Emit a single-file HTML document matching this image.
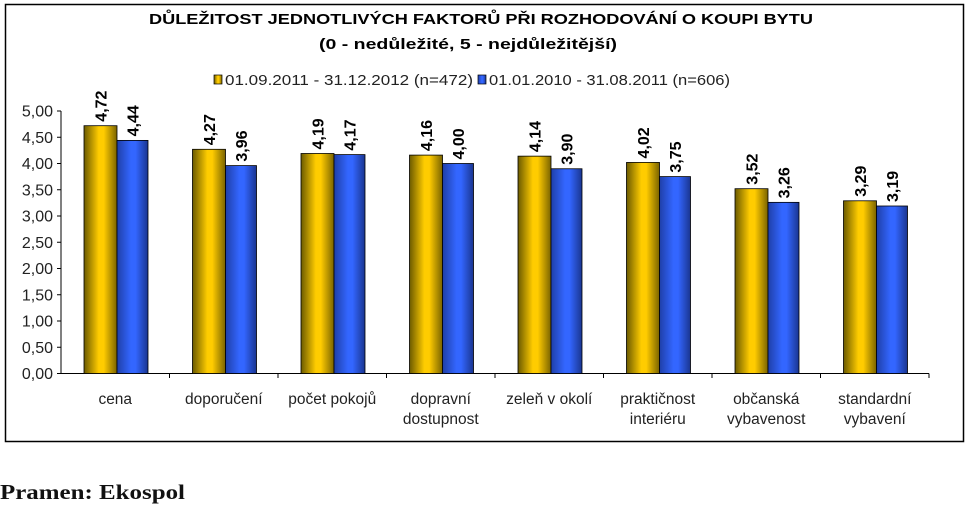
<!DOCTYPE html>
<html><head><meta charset="utf-8"><style>
body{margin:0;background:#fff;width:973px;height:515px;overflow:hidden}
text{font-family:"Liberation Sans",sans-serif}
.v{font-size:16px;font-weight:bold}
.c{font-size:15.5px;fill:#222;text-anchor:middle}
.t{font-size:16px;fill:#222;text-anchor:end}
</style></head><body>
<svg width="973" height="515" xmlns="http://www.w3.org/2000/svg">
<defs>
<linearGradient id="gy" x1="0" x2="1" y1="0" y2="0">
<stop offset="0" stop-color="#6b5a00"/><stop offset="0.45" stop-color="#ffcc00"/><stop offset="0.6" stop-color="#ffcc00"/><stop offset="1" stop-color="#7a6300"/></linearGradient>
<linearGradient id="gb" x1="0" x2="1" y1="0" y2="0">
<stop offset="0" stop-color="#1f3fa8"/><stop offset="0.45" stop-color="#3366ff"/><stop offset="0.6" stop-color="#3366ff"/><stop offset="1" stop-color="#1a3590"/></linearGradient>
</defs>
<rect x="5.5" y="4.5" width="958" height="437" fill="#fff" stroke="#000" stroke-width="1.5"/>
<text x="481" y="24" font-size="15" font-weight="bold" text-anchor="middle" textLength="664" lengthAdjust="spacingAndGlyphs">DŮLEŽITOST JEDNOTLIVÝCH FAKTORŮ PŘI ROZHODOVÁNÍ O KOUPI BYTU</text>
<text x="468" y="49" font-size="15" font-weight="bold" text-anchor="middle" textLength="298" lengthAdjust="spacingAndGlyphs">(0 - nedůležité, 5 - nejdůležitější)</text>
<rect x="214" y="75" width="8" height="9" fill="url(#gy)" stroke="#000" stroke-width="0.7"/>
<text x="225" y="85" font-size="14.5" fill="#222" textLength="248" lengthAdjust="spacingAndGlyphs">01.09.2011 - 31.12.2012 (n=472)</text>
<rect x="478" y="75" width="8" height="9" fill="url(#gb)" stroke="#000" stroke-width="0.7"/>
<text x="489" y="85" font-size="14.5" fill="#222" textLength="241" lengthAdjust="spacingAndGlyphs">01.01.2010 - 31.08.2011 (n=606)</text>

<g stroke="#000" stroke-width="1">
<line x1="61" y1="111" x2="61" y2="374"/>
<line x1="61" y1="373.5" x2="929" y2="373.5"/>
<line x1="57" x2="61" y1="373.5" y2="373.5"/><line x1="57" x2="61" y1="347.25" y2="347.25"/>
<line x1="57" x2="61" y1="321" y2="321"/><line x1="57" x2="61" y1="294.75" y2="294.75"/>
<line x1="57" x2="61" y1="268.5" y2="268.5"/><line x1="57" x2="61" y1="242.25" y2="242.25"/>
<line x1="57" x2="61" y1="216" y2="216"/><line x1="57" x2="61" y1="189.75" y2="189.75"/>
<line x1="57" x2="61" y1="163.5" y2="163.5"/><line x1="57" x2="61" y1="137.25" y2="137.25"/>
<line x1="57" x2="61" y1="111" y2="111"/>
<line x1="169.5" x2="169.5" y1="373.5" y2="378"/><line x1="278" x2="278" y1="373.5" y2="378"/>
<line x1="386.5" x2="386.5" y1="373.5" y2="378"/><line x1="495" x2="495" y1="373.5" y2="378"/>
<line x1="603.5" x2="603.5" y1="373.5" y2="378"/><line x1="712" x2="712" y1="373.5" y2="378"/>
<line x1="820.5" x2="820.5" y1="373.5" y2="378"/><line x1="929" x2="929" y1="373.5" y2="378"/>
</g>
<g>
<text class="t" x="53" y="379">0,00</text><text class="t" x="53" y="352.75">0,50</text>
<text class="t" x="53" y="326.5">1,00</text><text class="t" x="53" y="300.25">1,50</text>
<text class="t" x="53" y="274">2,00</text><text class="t" x="53" y="247.75">2,50</text>
<text class="t" x="53" y="221.5">3,00</text><text class="t" x="53" y="195.25">3,50</text>
<text class="t" x="53" y="169">4,00</text><text class="t" x="53" y="142.75">4,50</text>
<text class="t" x="53" y="116.5">5,00</text>
</g>
<g stroke="#000" stroke-width="0.8">
<rect x="84" y="125.7" width="33" height="247.8" fill="url(#gy)"/>
<rect x="117" y="140.4" width="31" height="233.1" fill="url(#gb)"/>
<rect x="192.5" y="149.3" width="33" height="224.2" fill="url(#gy)"/>
<rect x="225.5" y="165.6" width="31" height="207.9" fill="url(#gb)"/>
<rect x="301" y="153.5" width="33" height="220" fill="url(#gy)"/>
<rect x="334" y="154.6" width="31" height="218.9" fill="url(#gb)"/>
<rect x="409.5" y="155.1" width="33" height="218.4" fill="url(#gy)"/>
<rect x="442.5" y="163.5" width="31" height="210" fill="url(#gb)"/>
<rect x="518" y="156.15" width="33" height="217.35" fill="url(#gy)"/>
<rect x="551" y="168.75" width="31" height="204.75" fill="url(#gb)"/>
<rect x="626.5" y="162.45" width="33" height="211.05" fill="url(#gy)"/>
<rect x="659.5" y="176.6" width="31" height="196.9" fill="url(#gb)"/>
<rect x="735" y="188.7" width="33" height="184.8" fill="url(#gy)"/>
<rect x="768" y="202.35" width="31" height="171.15" fill="url(#gb)"/>
<rect x="843.5" y="200.8" width="33" height="172.7" fill="url(#gy)"/>
<rect x="876.5" y="206" width="31" height="167.5" fill="url(#gb)"/>
</g>
<g>
<text class="v" transform="translate(106.5,121.7) rotate(-90)">4,72</text>
<text class="v" transform="translate(138.5,136.4) rotate(-90)">4,44</text>
<text class="v" transform="translate(215,145.3) rotate(-90)">4,27</text>
<text class="v" transform="translate(247,161.6) rotate(-90)">3,96</text>
<text class="v" transform="translate(323.5,149.5) rotate(-90)">4,19</text>
<text class="v" transform="translate(355.5,150.6) rotate(-90)">4,17</text>
<text class="v" transform="translate(432,151.1) rotate(-90)">4,16</text>
<text class="v" transform="translate(464,159.5) rotate(-90)">4,00</text>
<text class="v" transform="translate(540.5,152.15) rotate(-90)">4,14</text>
<text class="v" transform="translate(572.5,164.75) rotate(-90)">3,90</text>
<text class="v" transform="translate(649,158.45) rotate(-90)">4,02</text>
<text class="v" transform="translate(681,172.6) rotate(-90)">3,75</text>
<text class="v" transform="translate(757.5,184.7) rotate(-90)">3,52</text>
<text class="v" transform="translate(789.5,198.35) rotate(-90)">3,26</text>
<text class="v" transform="translate(866,196.8) rotate(-90)">3,29</text>
<text class="v" transform="translate(898,202) rotate(-90)">3,19</text>
</g>
<g>
<text class="c" x="115.25" y="404">cena</text>
<text class="c" x="223.75" y="404">doporučení</text>
<text class="c" x="332.25" y="404">počet pokojů</text>
<text class="c" x="440.75" y="404">dopravní</text><text class="c" x="440.75" y="424">dostupnost</text>
<text class="c" x="549.25" y="404">zeleň v okolí</text>
<text class="c" x="657.75" y="404">praktičnost</text><text class="c" x="657.75" y="424">interiéru</text>
<text class="c" x="766.25" y="404">občanská</text><text class="c" x="766.25" y="424">vybavenost</text>
<text class="c" x="874.75" y="404">standardní</text><text class="c" x="874.75" y="424">vybavení</text>
</g>
<text x="0" y="499" font-size="21" font-weight="bold" fill="#111" style="font-family:'Liberation Serif',serif" textLength="185" lengthAdjust="spacingAndGlyphs">Pramen: Ekospol</text>
</svg>
</body></html>
